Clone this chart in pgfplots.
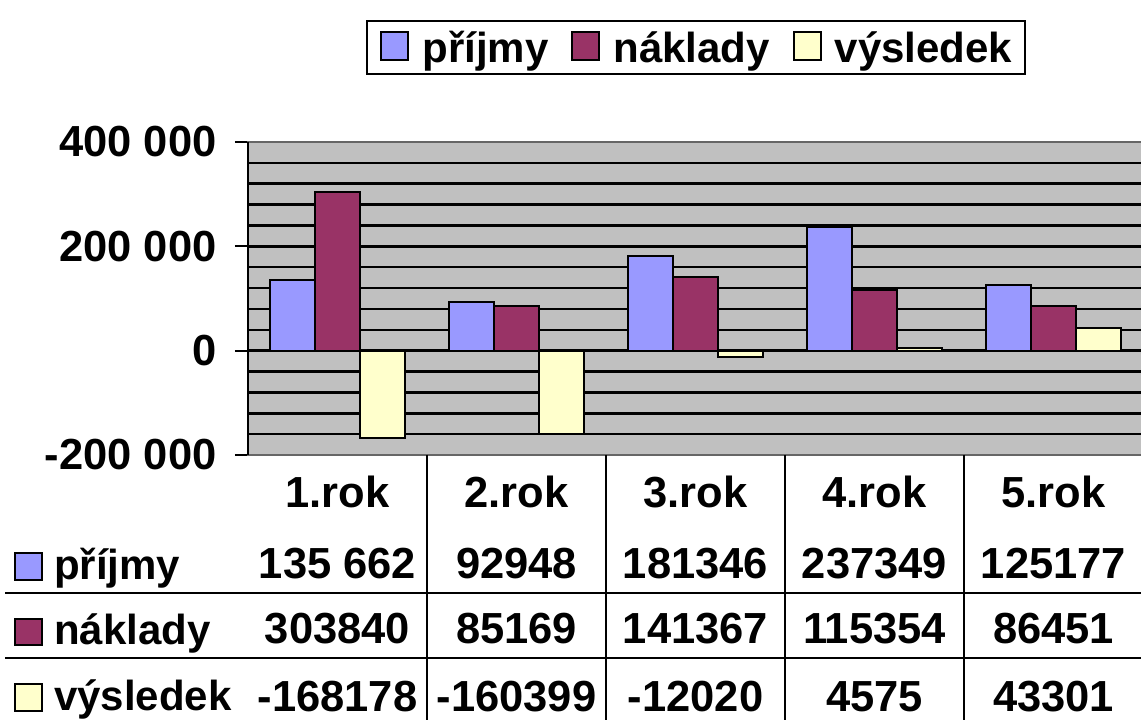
\documentclass[border=0pt]{standalone}
\usepackage{fontspec}
\setmainfont{Liberation Sans}
\usepackage{pgfplots}
\pgfplotsset{compat=1.18}
\definecolor{prij}{HTML}{9999FF}
\definecolor{nakl}{HTML}{993366}
\definecolor{vysl}{HTML}{FFFFCC}
\definecolor{plotbg}{HTML}{C0C0C0}
\newcommand\bigf{\fontsize{43.5pt}{48pt}\selectfont\bfseries}
\newcommand\legf{\fontsize{42pt}{48pt}\selectfont\bfseries}
\begin{document}
\begin{tikzpicture}[x=1pt,y=1pt]
\useasboundingbox (0,0) rectangle (1141,720);
\begin{axis}[
  at={(248pt,265pt)}, anchor=south west,
  scale only axis, width=895pt, height=313pt,
  xmin=-0.5, xmax=4.5, ymin=-200000, ymax=400000,
  scaled y ticks=false,
  axis background/.style={fill=plotbg},
  axis line style={draw=gray!80!black, line width=2pt},
  xtick=\empty,
  ytick={-200000,0,200000,400000},
  yticklabels={-200 000,0,200 000,400 000},
  minor ytick={-160000,-120000,-80000,-40000,40000,80000,120000,160000,240000,280000,320000,360000},
  ymajorgrids, yminorgrids,
  major grid style={black, line width=2.5pt},
  minor grid style={black, line width=2.5pt},
  tick align=outside, major tick length=13pt, minor tick length=0pt,
  ytick style={black, line width=2pt},
  tick label style={font=\bigf},
  yticklabel style={xshift=-15pt},
  ybar, bar width=0.25,
  legend style={font=\legf, draw=black, line width=2pt, legend columns=3,
    at={(axis description cs:0.501,1.302)}, anchor=center,
    inner xsep=13pt, inner ysep=10pt,
    nodes={inner sep=0pt},
    /tikz/every odd column/.append style={column sep=13pt},
    /tikz/every even column/.append style={column sep=23pt}},
  legend image code/.code={\draw[#1] (0pt,-12pt) rectangle (27pt,16pt);},
  clip=false,
]
\addplot[fill=prij, draw=black, line width=2pt, bar shift=-0.25] coordinates {(0,135662) (1,92948) (2,181346) (3,237349) (4,125177)};
\addplot[fill=nakl, draw=black, line width=2pt, bar shift=0] coordinates {(0,303840) (1,85169) (2,141367) (3,115354) (4,86451)};
\addplot[fill=vysl, draw=black, line width=2pt, bar shift=0.25] coordinates {(0,-168178) (1,-160399) (2,-12020) (3,4575) (4,43301)};
\legend{příjmy, náklady, výsledek}
\draw[black, line width=2pt] (rel axis cs:0,0) -- (rel axis cs:0,1);
\end{axis}
% data table
\begin{scope}[line width=2pt]
\foreach \k in {1,2,3,4} {\draw (248+179*\k,265) -- (248+179*\k,0);}
\draw (5,127) -- (1141,127);
\draw (5,62) -- (1141,62);
\draw[fill=prij] (15,140) rectangle (42,167);
\draw[fill=nakl] (15,75) rectangle (42,101);
\draw[fill=vysl] (15,9) rectangle (42,36);
\end{scope}
\node[anchor=base west, font=\legf, inner sep=0] at (54,140) {příjmy};
\node[anchor=base west, font=\legf, inner sep=0] at (54,75) {náklady};
\node[anchor=base west, font=\legf, inner sep=0] at (54,9) {výsledek};
\foreach \lab [count=\i from 0] in {1.rok,2.rok,3.rok,4.rok,5.rok}
  {\node[anchor=base, font=\bigf, inner sep=0] at (337.5+179*\i,212) {\lab};}
\foreach \v [count=\i from 0] in {135 662,92948,181346,237349,125177}
  {\node[anchor=base, font=\bigf, inner sep=0] at (337.5+179*\i,141) {\v};}
\foreach \v [count=\i from 0] in {303840,85169,141367,115354,86451}
  {\node[anchor=base, font=\bigf, inner sep=0] at (337.5+179*\i,76) {\v};}
\foreach \v [count=\i from 0] in {-168178,-160399,-12020,4575,43301}
  {\node[anchor=base, font=\bigf, inner sep=0] at (337.5+179*\i,8) {\v};}
\end{tikzpicture}
\end{document}
